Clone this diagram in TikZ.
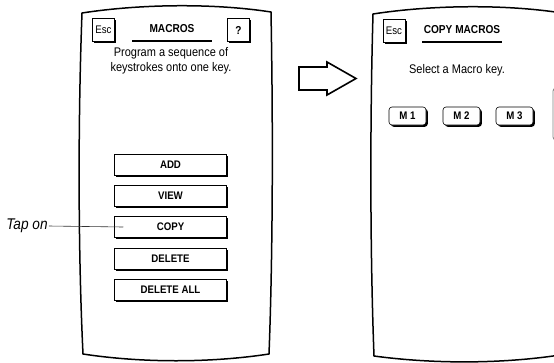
\documentclass[tikz,border=0pt]{standalone}
\usepackage{fontspec}
\setmainfont[FakeStretch=0.88]{Liberation Sans}
\usetikzlibrary{shadows}
\begin{document}
\begin{tikzpicture}[x=1pt,y=-1pt]
						\useasboundingbox (0,0) rectangle (554,362);
						\clip (0,0) rectangle (554,362);
						\tikzstyle{panel}=[line width=1.5pt,line join=round]
						\tikzstyle{keyshadow}=[drop shadow={shadow xshift=1.8pt,shadow yshift=-1.8pt,fill=black,opacity=1}]
						\tikzstyle{menukey}=[draw=black,fill=white,line width=0.5pt,keyshadow,minimum width=112pt,minimum height=21pt,inner sep=0pt,font=\fontsize{11}{11}\selectfont\bfseries]
						\tikzstyle{smallkey}=[draw=black,fill=white,line width=0.6pt,keyshadow,minimum width=22pt,minimum height=23pt,inner sep=0pt,font=\fontsize{11}{11}\selectfont]
						\tikzstyle{macrokey}=[draw=black,fill=white,line width=0.6pt,rounded corners=3pt,keyshadow,minimum width=37pt,minimum height=18pt,inner sep=0pt,font=\fontsize{11}{11}\selectfont\bfseries]
						\tikzstyle{title}=[font=\fontsize{11.5}{12}\selectfont\bfseries]
						\tikzstyle{info}=[align=center,font=\fontsize{12.5}{15}\selectfont]
						% left screen
						\draw[panel] (82,13) .. controls (140,4) and (213,3) .. (271,12) .. controls (273,120) and (273,250) .. (269,354) .. controls (210,363) and (142,363) .. (83,354) .. controls (78,250) and (78,120) .. (82,13) -- cycle;
						\node[smallkey](esc1) at (103.5,30) {Esc};
						\node[smallkey,font=\fontsize{11.5}{12}\selectfont\bfseries](help) at (238.5,30) {?};
						\node[title](t1) at (172,29) {MACROS};
						\draw[line width=1.2pt] (132,41) -- (212,41);
						\node[info](i1) at (171,61) {Program a sequence of\\keystrokes onto one key.};
						\node[menukey](add) at (170.5,164.5) {ADD};
						\node[menukey](view) at (170.5,195.5) {VIEW};
						\node[menukey](copy) at (170.5,227) {COPY};
						\node[menukey](del) at (170.5,258.5) {DELETE};
						\node[menukey](delall) at (170.5,290) {DELETE ALL};
						\node[font=\fontsize{15.5}{16}\selectfont\itshape,inner sep=1pt](tap) at (27,226) {Tap on};
						\draw[-,line width=0.6pt,black!80](tap.east) -- ([xshift=9pt]copy.west);
						% arrow
						\draw[line width=1.6pt,line join=miter] (299,67) -- (327,67) -- (327,62) -- (356,78.5) -- (327,95) -- (327,90) -- (299,90) -- cycle;
						% right screen
						\draw[panel] (373,14) .. controls (431,5) and (504,4) .. (562,13) .. controls (564,120) and (564,250) .. (560,355) .. controls (501,364) and (433,364) .. (374,356) .. controls (370,250) and (370,120) .. (373,14) -- cycle;
						\node[smallkey](esc2) at (394,31) {Esc};
						\node[title](t2) at (462,30) {COPY MACROS};
						\draw[line width=1.2pt] (422,42) -- (502,42);
						\node[info](i2) at (457,70) {Select a Macro key.};
						\node[macrokey](m1) at (407.5,116) {M 1};
						\node[macrokey](m2) at (461.5,116) {M 2};
						\node[macrokey](m3) at (514.5,116) {M 3};
						\node[draw=gray,line width=0.8pt,rounded corners=3pt,minimum width=37pt,minimum height=52pt](m4) at (571.5,114) {};
					\end{tikzpicture}
\end{document}
